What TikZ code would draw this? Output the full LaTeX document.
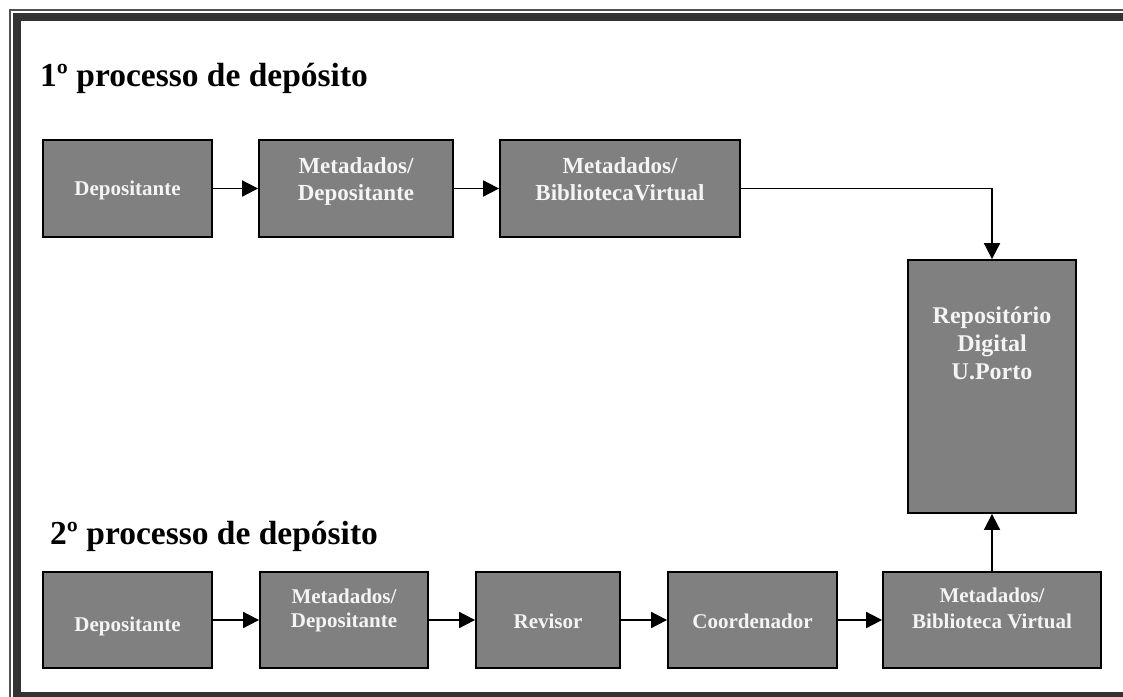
\documentclass[tikz,border=0pt]{standalone}
\usepackage{fontspec}
\setmainfont{Liberation Serif}
\usetikzlibrary{arrows.meta}
\definecolor{boxgray}{HTML}{808080}
\definecolor{frameband}{HTML}{333333}
\definecolor{frameline}{HTML}{505050}
\definecolor{boxtext}{HTML}{F4F4F4}
\tikzset{
  box/.style={draw=black, line width=1.8pt, fill=boxgray, inner sep=0pt},
  lbl/.style={text=boxtext, font=\bfseries, align=center, anchor=base, inner sep=0pt},
  flow/.style={line width=1.8pt, -{Triangle[length=16pt,width=16pt]}},
  title/.style={font=\fontsize{33.5}{38}\selectfont\bfseries, anchor=base west, inner sep=0pt}
}
\begin{document}
\begin{tikzpicture}[x=1pt,y=-1pt]
\useasboundingbox (0,0) rectangle (1123,696);
\clip (0,0) rectangle (1123,696);
% frame
\draw[frameline, line width=2pt] (9.5,9.5) rectangle (1140,715);
\draw[frameband, line width=7.5pt] (16.8,16.8) rectangle (1134,695.8);

% titles
\node[title] (t1) at (40,86) {1º processo de depósito};
\node[title] (t2) at (50,544) {2º processo de depósito};

% row 1 boxes
\node[box, minimum width=169pt, minimum height=97pt] (a1) at (127.5,188.5) {};
\node[box, minimum width=194pt, minimum height=97pt] (b1) at (356,188.5) {};
\node[box, minimum width=240pt, minimum height=97pt] (c1) at (620,188.5) {};
\node[box, minimum width=168pt, minimum height=253pt] (rep) at (992,386.5) {};

% row 2 boxes
\node[box, minimum width=169pt, minimum height=96pt] (a2) at (127.5,620) {};
\node[box, minimum width=168pt, minimum height=96pt] (b2) at (344,620) {};
\node[box, minimum width=144pt, minimum height=96pt] (c2) at (548,620) {};
\node[box, minimum width=169pt, minimum height=96pt] (d2) at (752.5,620) {};
\node[box, minimum width=218pt, minimum height=96pt] (e2) at (992,620) {};

% labels (anchor=base is the baseline of the last line)
\node[lbl, font=\fontsize{21}{25}\selectfont\bfseries] (la1) at (127.5,195) {Depositante};
\node[lbl, font=\fontsize{23}{27}\selectfont\bfseries] (lb1) at (356,200) {Metadados/\\Depositante};
\node[lbl, font=\fontsize{23}{27}\selectfont\bfseries] (lc1) at (620,200) {Metadados/\\BibliotecaVirtual};
\node[lbl, font=\fontsize{24}{28}\selectfont\bfseries] (lrep) at (992,379) {Repositório\\Digital\\U.Porto};
\node[lbl, font=\fontsize{21}{25}\selectfont\bfseries] (la2) at (127.5,631) {Depositante};
\node[lbl, font=\fontsize{21}{24}\selectfont\bfseries] (lb2) at (344,627) {Metadados/\\Depositante};
\node[lbl, font=\fontsize{21}{25}\selectfont\bfseries] (lc2) at (548,628) {Revisor};
\node[lbl, font=\fontsize{21}{25}\selectfont\bfseries] (ld2) at (752.5,628) {Coordenador};
\node[lbl, font=\fontsize{21}{26}\selectfont\bfseries] (le2) at (992,628) {Metadados/\\Biblioteca Virtual};

% connectors
\draw[flow] (a1.east) -- (b1.west);
\draw[flow] (b1.east) -- (c1.west);
\draw[flow] (c1.east) -| (rep.north);
\draw[flow] (a2.east) -- (b2.west);
\draw[flow] (b2.east) -- (c2.west);
\draw[flow] (c2.east) -- (d2.west);
\draw[flow] (d2.east) -- (e2.west);
\draw[flow] (e2.north) -- (rep.south);
\end{tikzpicture}
\end{document}
